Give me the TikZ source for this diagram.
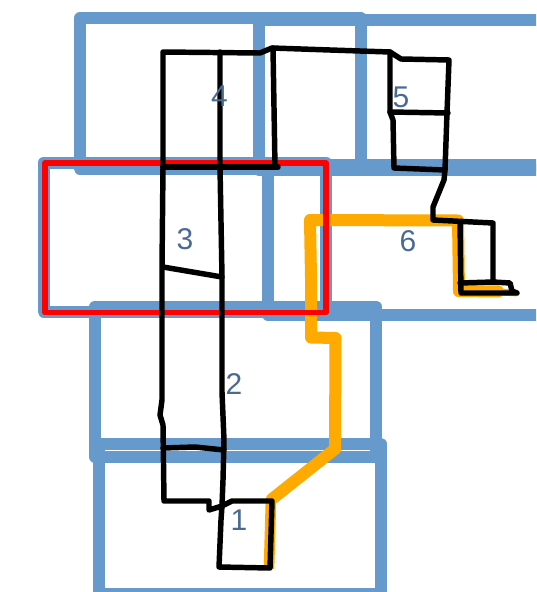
\documentclass[tikz,border=0pt]{standalone}
\usepackage{fontspec}
\setmainfont{Liberation Sans}
\definecolor{roomblue}{HTML}{6699CC}
\definecolor{routeorange}{HTML}{FFAA00}
\definecolor{labelblue}{HTML}{4A6A94}
\tikzset{
  room/.style={draw=roomblue,line width=9pt,line join=round},
  selected/.style={draw=red,line width=4.2pt,line join=round},
  route/.style={draw=routeorange,line width=9pt,line join=round,line cap=round},
  ink/.style={draw=black,line width=4.1pt,line join=round,line cap=round},
  num/.style={text=labelblue,font=\fontsize{22.5}{24}\selectfont,inner sep=0pt}
}
\begin{document}
\begin{tikzpicture}[x=0.75pt,y=-0.75pt]
\useasboundingbox (0,0) rectangle (536,592);
\clip (0,0) rectangle (536,592);
% rooms
\draw[room] (79.5,18.5) rectangle (361,168.5);
\draw[room] (259,20.5) rectangle (600,169.5);
\draw[room] (43.5,162.5) rectangle (326,311.5);
\draw[room] (267.5,165) rectangle (600,314.5);
\draw[room] (95,306.5) rectangle (376,457);
\draw[room] (98.5,443.5) rectangle (380.5,594);
% route
\draw[route] (335,449) -- (335.5,338) -- (311,337.5) -- (311,278) -- (310,220) -- (458,220.5) -- (459,291);
\draw[route] (459,291) -- (498,291.5);
\draw[route,line width=5pt] (498,292) -- (516,293);
\draw[route] (335,449) -- (272,499);
\draw[route,line width=8pt,line cap=butt] (271,499) -- (269,569);
% selection
\draw[selected] (45,163) rectangle (326,312.5);
% walls
\draw[ink] (163,167) -- (163,52) -- (260,53) -- (272,48) -- (330,50) -- (390,52) -- (401,59) -- (449,60) -- (447,113) -- (445,170) -- (444,180) -- (433,207) -- (433,220) -- (493,223) -- (493,282) -- (510,283) -- (512,291) -- (517,293) -- (461,293) -- (460,222);
\draw[ink] (460,283) -- (493,282);
\draw[ink] (163,167) -- (278,167);
\draw[ink] (273,48) -- (275,167);
\draw[ink] (220,52) -- (220,167) -- (222,277) -- (222,392) -- (224,440) -- (223,480) -- (222,506);
\draw[ink] (163,167) -- (162,267) -- (162,400) -- (160,415) -- (163,425) -- (164,501) -- (209,501) -- (209,510) -- (222,506) -- (232,501) -- (272,501) -- (270,568) -- (219,567) -- (221,520) -- (222,506);
\draw[ink] (163,267) -- (222,277);
\draw[ink] (163,448) -- (195,447) -- (224,450);
\draw[ink] (390,52) -- (390,112) -- (393,120) -- (394,168) -- (445,170);
\draw[ink] (390,112) -- (448,113);
% labels
\node[num] (n1) at (239,520) {1};
\node[num] (n2) at (234,384) {2};
\node[num] (n3) at (185,239) {3};
\node[num] (n4) at (219.5,96) {4};
\node[num] (n5) at (401,97) {5};
\node[num] (n6) at (408,241) {6};
\end{tikzpicture}
\end{document}
